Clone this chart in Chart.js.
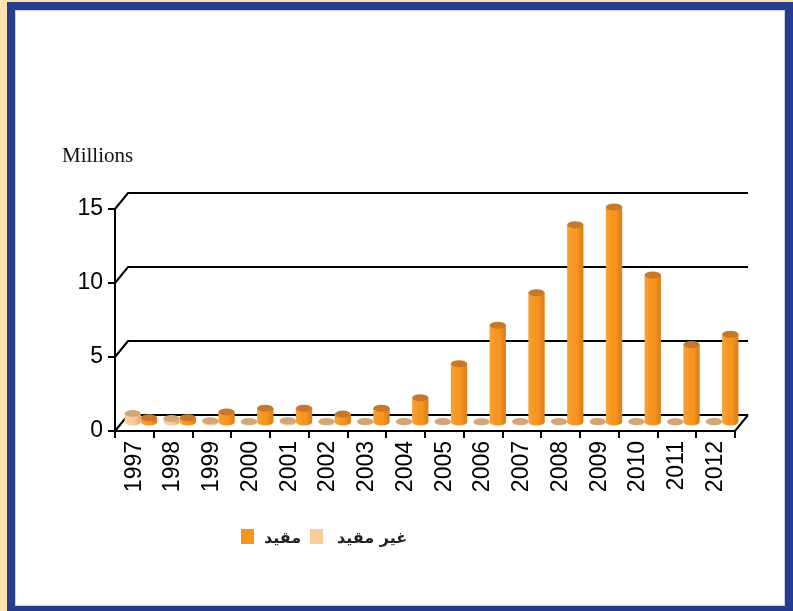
<!DOCTYPE html>
<html>
<head>
<meta charset="utf-8">
<script src="https://cdn.jsdelivr.net/npm/chart.js@4.4.1/dist/chart.umd.min.js"></script>
<style>
  html, body { margin:0; padding:0; width:793px; height:611px; overflow:hidden; background:#fde3b2; }
  #frame { position:absolute; left:7px; top:2px; width:786px; height:609px; background:#263d8e; }
  #inner { position:absolute; left:15px; top:10px; width:770px; height:596px; background:#ffffff; box-shadow: inset 0 0 0 1px #c9d1e6; }
  #chart { position:absolute; left:0; top:0; }
  #units { position:absolute; left:62px; top:143px; font-family:"Liberation Serif", serif; font-size:21px; color:#111; }
  .lg { position:absolute; font-family:"DejaVu Sans", sans-serif; font-size:16px; font-weight:bold; color:#222; line-height:20px; }
  .sw { position:absolute; width:13px; height:15px; }
</style>
</head>
<body>
<div id="frame"></div>
<div id="inner"></div>
<canvas id="chart" width="793" height="611"></canvas>
<div id="units">Millions</div>
<div class="sw" style="left:241px;top:529px;background:#f7941d;"></div>
<div class="lg" dir="rtl" style="left:264px;top:528px;">مقيد</div>
<div class="sw" style="left:310px;top:529px;background:#fdcb98;"></div>
<div class="lg" dir="rtl" style="left:337px;top:528px;">غير مقيد</div>
<script>
const years = ["1997","1998","1999","2000","2001","2002","2003","2004","2005","2006","2007","2008","2009","2010","2011","2012"];
const restricted = [0.35, 0.35, 0.75, 1.0, 1.0, 0.6, 1.0, 1.7, 4.0, 6.6, 8.8, 13.4, 14.6, 10.0, 5.3, 6.0];
const unrestricted = [0.65, 0.3, 0.15, 0.1, 0.15, 0.1, 0.1, 0.1, 0.1, 0.08, 0.1, 0.1, 0.1, 0.1, 0.08, 0.1];
const yTicks = [0, 5, 10, 15];

const DX = 13, DY = 16;
const capColors = ["#d2a679", "#c7782b"];

const depth3d = {
  id: 'depth3d',
  beforeDatasetsDraw(chart) {
    const { ctx, chartArea: { left, right, bottom }, scales: { y } } = chart;
    ctx.save();
    ctx.strokeStyle = '#000';
    ctx.lineWidth = 2;
    y.ticks.forEach(t => {
      const py = y.getPixelForValue(t.value);
      ctx.beginPath();
      ctx.moveTo(left, py);
      ctx.lineTo(left + DX, py - DY);
      ctx.lineTo(right + DX, py - DY);
      ctx.stroke();
    });
    ctx.beginPath();
    ctx.moveTo(right, bottom);
    ctx.lineTo(right + DX, bottom - DY);
    ctx.stroke();
    ctx.restore();
    ctx.save();
    ctx.translate(DX / 2, -DY / 2);
  },
  afterDatasetsDraw(chart) {
    const { ctx } = chart;
    chart.data.datasets.forEach((ds, di) => {
      const meta = chart.getDatasetMeta(di);
      meta.data.forEach(el => {
        const w = el.width, x = el.x, top = el.y, base = el.base;
        const ry = 3.5;
        ctx.fillStyle = ds.backgroundColor;
        ctx.beginPath();
        ctx.ellipse(x, base, w / 2, ry, 0, 0, Math.PI);
        ctx.fill();
        const g = ctx.createLinearGradient(x - w / 2, 0, x + w / 2, 0);
        g.addColorStop(0, 'rgba(255,255,255,0.12)');
        g.addColorStop(0.45, 'rgba(255,255,255,0)');
        g.addColorStop(0.75, 'rgba(120,50,0,0.10)');
        g.addColorStop(1, 'rgba(120,50,0,0.22)');
        ctx.fillStyle = g;
        ctx.fillRect(x - w / 2, top, w, base - top);
        ctx.beginPath();
        ctx.ellipse(x, base, w / 2, ry, 0, 0, Math.PI);
        ctx.fill();
        ctx.fillStyle = capColors[di];
        ctx.beginPath();
        ctx.ellipse(x, top, w / 2, ry, 0, 0, Math.PI * 2);
        ctx.fill();
      });
    });
    ctx.restore();
  }
};

new Chart(document.getElementById('chart'), {
  type: 'bar',
  data: {
    labels: years,
    datasets: [
      { label: 'غير مقيد', data: unrestricted, backgroundColor: '#fdcb98', borderWidth: 0 },
      { label: 'مقيد', data: restricted, backgroundColor: '#f7941d', borderWidth: 0 }
    ]
  },
  options: {
    responsive: false,
    animation: false,
    events: [],
    layout: { padding: { left: 15, right: 58, top: 209, bottom: 110 } },
    datasets: { bar: { categoryPercentage: 0.84, barPercentage: 1.0 } },
    plugins: { legend: { display: false }, tooltip: { enabled: false } },
    scales: {
      x: {
        afterFit: s => { s.height = 70; },
        ticks: { color: '#000', font: { family: 'Liberation Sans', size: 23 }, minRotation: 90, maxRotation: 90, padding: 3, autoSkip: false },
        grid: { drawOnChartArea: false, color: '#000', lineWidth: 2, tickLength: 7, offset: true },
        border: { display: true, color: '#000', width: 2 }
      },
      y: {
        min: 0, max: 15,
        afterFit: s => { s.width = 100; },
        afterBuildTicks: s => { s.ticks = yTicks.map(v => ({ value: v })); },
        ticks: { color: '#000', font: { family: 'Liberation Sans', size: 23 }, padding: 5 },
        grid: { drawOnChartArea: false, color: '#000', lineWidth: 2, tickLength: 7 },
        border: { display: true, color: '#000', width: 2 }
      }
    }
  },
  plugins: [depth3d]
});
</script>
</body>
</html>
